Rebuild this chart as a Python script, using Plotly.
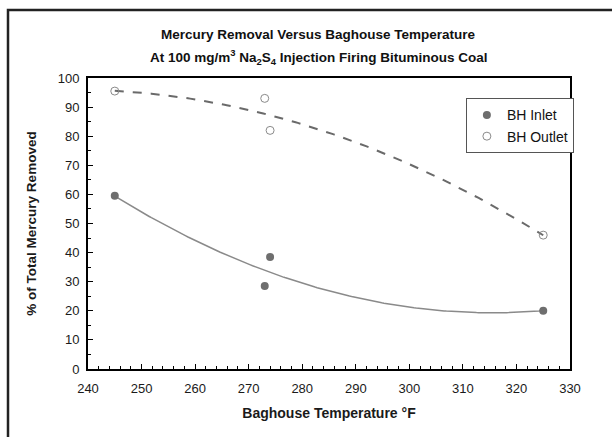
import numpy as np
import plotly.graph_objects as go

# Data
inlet_temp = [245, 273, 274, 325]
inlet_removal = [59.5, 28.5, 38.5, 20.0]
outlet_temp = [245, 273, 274, 325]
outlet_removal = [95.5, 93.0, 82.0, 46.0]

x_ticks = [240, 250, 260, 270, 280, 290, 300, 310, 320, 330]
y_ticks = [0, 10, 20, 30, 40, 50, 60, 70, 80, 90, 100]

# 2nd-order polynomial trendlines fitted to the data (as in the source)
xs = np.linspace(min(inlet_temp), max(inlet_temp), 200)
inlet_fit = np.polyval(np.polyfit(inlet_temp, inlet_removal, 2), xs)
outlet_fit = np.polyval(np.polyfit(outlet_temp, outlet_removal, 2), xs)

fig = go.Figure()
fig.add_trace(go.Scatter(x=xs, y=inlet_fit, mode="lines", showlegend=False,
                         line=dict(color="#8a8a8a", width=1.5), hoverinfo="skip"))
fig.add_trace(go.Scatter(x=xs, y=outlet_fit, mode="lines", showlegend=False,
                         line=dict(color="#6a6a6a", width=2, dash="dash"), hoverinfo="skip"))
fig.add_trace(go.Scatter(x=inlet_temp, y=inlet_removal, mode="markers", name="BH Inlet",
                         marker=dict(symbol="circle", size=8, color="#6e6e6e")))
fig.add_trace(go.Scatter(x=outlet_temp, y=outlet_removal, mode="markers", name="BH Outlet",
                         marker=dict(symbol="circle-open", size=8, color="#8a8a8a",
                                     line=dict(width=1))))

font = "Liberation Sans, Arial, sans-serif"

fig.update_layout(
    width=612, height=437,
    margin=dict(l=88, r=42, t=78, b=68),
    paper_bgcolor="white", plot_bgcolor="white",
    font=dict(family=font, size=13, color="#1a1a1a"),
    showlegend=True,
    legend=dict(x=0.784, y=0.93, xanchor="left", yanchor="top",
                bgcolor="white", bordercolor="#555555", borderwidth=1,
                font=dict(size=14, color="#111111"), tracegroupgap=0,
                itemwidth=30),
    xaxis=dict(range=[240, 330], tickvals=x_ticks, ticks="inside", ticklen=5,
               tickcolor="black", showgrid=False, zeroline=False,
               showline=True, linecolor="black", linewidth=2, mirror=True,
               tickfont=dict(size=13, color="#1a1a1a"), ticklabelstandoff=6,
               minor=dict(dtick=2, ticks="inside", ticklen=3, tickcolor="black"),
               title=dict(text="<b>Baghouse Temperature °F</b>", font=dict(size=14), standoff=14)),
    yaxis=dict(range=[0, 100], tickvals=y_ticks, ticks="inside", ticklen=5,
               tickcolor="black", showgrid=False, zeroline=False,
               showline=True, linecolor="black", linewidth=2, mirror=True,
               tickfont=dict(size=13, color="#1a1a1a"), ticklabelstandoff=4,
               minor=dict(dtick=5, ticks="inside", ticklen=3, tickcolor="black"),
               title=dict(text="<b>% of Total Mercury Removed</b>", font=dict(size=13.5), standoff=18)),
    annotations=[
        dict(text="<b>Mercury Removal Versus Baghouse Temperature</b>",
             xref="paper", yref="paper", x=0.479, y=1.148, xanchor="center", yanchor="middle",
             showarrow=False, font=dict(size=13.5, color="#111111")),
        dict(text="<b>At 100 mg/m<sup>3</sup> Na<sub>2</sub>S<sub>4</sub> Injection Firing Bituminous Coal</b>",
             xref="paper", yref="paper", x=0.479, y=1.072, xanchor="center", yanchor="middle",
             showarrow=False, font=dict(size=13.5, color="#111111")),
    ],
    shapes=[
        dict(type="rect", xref="paper", yref="paper",
             x0=(8 - 88) / 482, x1=(625 - 88) / 482,
             y0=(369 - 450) / 291, y1=(369 - 10) / 291,
             line=dict(color="#222222", width=2.5), layer="below"),
    ],
)

fig.write_html("out.html")
